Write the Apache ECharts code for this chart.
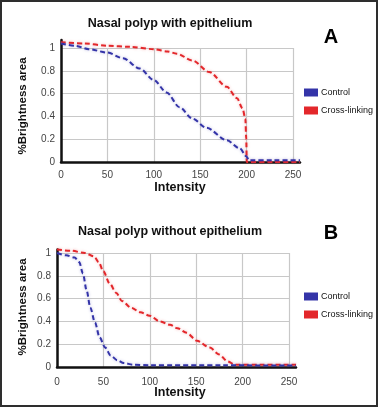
<!DOCTYPE html>
<html><head><meta charset="utf-8">
<script src="https://cdn.jsdelivr.net/npm/echarts@6/dist/echarts.min.js"></script>
<style>
html,body{margin:0;padding:0;background:#fff;}
#chart{position:absolute;left:0;top:0;width:378px;height:407px;}
#frame{position:absolute;left:0;top:0;width:378px;height:407px;box-sizing:border-box;border:2px solid #2e2e2e;pointer-events:none;}
</style></head><body>
<div id="chart"></div><div id="frame"></div>
<script>
const panelTitles = ['Nasal polyp with epithelium', 'Nasal polyp without epithelium'];
const panelLetters = ['A', 'B'];
const seriesNames = ['Control', 'Cross-linking'];
const xAxisName = 'Intensity';
const yAxisName = '%Brightness area';
const xTicks = [0, 50, 100, 150, 200, 250];
const yTicks = [0, 0.2, 0.4, 0.6, 0.8, 1];

// Panel A
const aControlX = [0, 15, 30, 50, 67, 85, 100, 114, 128, 142, 157, 179, 193, 200, 203, 230, 258];
const aControlY = [1.04, 1.02, 0.99, 0.96, 0.91, 0.82, 0.72, 0.61, 0.48, 0.38, 0.30, 0.19, 0.12, 0.05, 0.015, 0.015, 0.015];
const aCrossX = [0, 25, 50, 75, 100, 115, 125, 142, 160, 179, 190, 196, 199, 200, 200.5, 230, 258];
const aCrossY = [1.05, 1.04, 1.02, 1.01, 0.99, 0.97, 0.95, 0.89, 0.79, 0.66, 0.56, 0.47, 0.38, 0.2, 0.0, 0.0, 0.0];

// Panel B
const bControlX = [0, 10, 19, 24, 28, 32, 36, 41, 46, 52, 58, 65, 72, 82, 100, 180, 258];
const bControlY = [1.0, 0.98, 0.96, 0.92, 0.82, 0.67, 0.52, 0.39, 0.26, 0.17, 0.10, 0.06, 0.035, 0.02, 0.015, 0.015, 0.012];
const bCrossX = [0, 15, 30, 40, 45, 50, 57, 64, 70, 80, 90, 100, 111, 122, 130, 140, 151, 165, 175, 184, 192, 220, 258];
const bCrossY = [1.03, 1.02, 1.0, 0.97, 0.92, 0.84, 0.73, 0.65, 0.58, 0.52, 0.48, 0.45, 0.40, 0.37, 0.34, 0.30, 0.23, 0.17, 0.11, 0.05, 0.02, 0.02, 0.02];

const zip = (xs, ys) => xs.map((x, i) => [x, ys[i]]);
const FONT = "'Liberation Sans', Arial, sans-serif";
const BLUE = '#3434a8';
const RED = '#e3272b';

// layout per panel (pixel geometry only)
const panels = [
  { left: 61, frameTop: 48, ymax: 1.07, titleY: 24, letterY: 37, nameX: 23, nameY: 106, xNameY: 188, legendTop: 88 },
  { left: 57, frameTop: 253, ymax: 1.03, titleY: 232, letterY: 233, nameX: 23, nameY: 307, xNameY: 393, legendTop: 292 }
];
const FRAME_W = 232, FRAME_H = 114, DATA_W = 239, XMAX = 258;

const grid = [], xAxis = [], yAxis = [], series = [], graphic = [], legend = [];
const data = [[zip(aControlX, aControlY), zip(aCrossX, aCrossY)], [zip(bControlX, bControlY), zip(bCrossX, bCrossY)]];

panels.forEach((p, i) => {
  const fg = grid.length;
  grid.push({ left: p.left, top: p.frameTop, width: FRAME_W, height: FRAME_H });
  const dg = grid.length;
  const dh = FRAME_H * p.ymax;
  grid.push({ left: p.left, top: p.frameTop + FRAME_H - dh, width: DATA_W, height: dh });

  xAxis.push({
    gridIndex: fg, type: 'value', min: xTicks[0], max: xTicks[xTicks.length - 1], interval: 50,
    axisLine: { show: false }, axisTick: { show: false },
    axisLabel: { fontSize: 10, color: '#444', margin: i === 0 ? 8 : 10, fontFamily: FONT },
    splitLine: { lineStyle: { color: '#c8c8c8', width: 1.2 } }
  });
  yAxis.push({
    gridIndex: fg, type: 'value', min: yTicks[0], max: yTicks[yTicks.length - 1], interval: 0.2,
    axisLine: { show: false }, axisTick: { show: false },
    axisLabel: { fontSize: 10, color: '#444', margin: 6, fontFamily: FONT,
      formatter: v => (v === 0 ? '0' : (Math.abs(v - 1) < 1e-9 ? '1' : v.toFixed(1))) },
    splitLine: { lineStyle: { color: '#c8c8c8', width: 1.2 } }
  });
  const dx = xAxis.length;
  xAxis.push({
    gridIndex: dg, type: 'value', min: 0, max: XMAX,
    axisLine: { show: true, lineStyle: { color: '#111', width: 2.5 } },
    axisTick: { show: false }, axisLabel: { show: false }, splitLine: { show: false }
  });
  const dy = yAxis.length;
  yAxis.push({
    gridIndex: dg, type: 'value', min: 0, max: p.ymax,
    axisLine: { show: true, lineStyle: { color: '#111', width: 2.5 } },
    axisTick: { show: false }, axisLabel: { show: false }, splitLine: { show: false }
  });

  [BLUE, RED].forEach((c, k) => {
    series.push({
      name: seriesNames[k], type: 'line', xAxisIndex: dx, yAxisIndex: dy,
      data: data[i][k], showSymbol: false, symbol: 'none', smooth: 0.3, smoothMonotone: 'x',
      clip: false, z: 3 + (1 - k),
      itemStyle: { color: c },
      lineStyle: { color: c, width: 2, type: [5, 3], shadowBlur: 3, shadowColor: k === 0 ? 'rgba(52,52,168,0.35)' : 'rgba(227,39,43,0.35)' }
    });
  });

  legend.push({
    data: seriesNames, orient: 'vertical', left: 304, top: p.legendTop,
    icon: 'rect', itemWidth: 14, itemHeight: 8, itemGap: 9,
    textStyle: { fontSize: 9, color: '#111', fontFamily: FONT, padding: [0, 0, 0, -2] },
    itemStyle: { borderWidth: 0 }, lineStyle: { width: 0 }, padding: 0
  });

  graphic.push({ type: 'text', x: 170, y: p.titleY, style: { text: panelTitles[i], font: 'bold 12.5px ' + FONT, fill: '#111', textAlign: 'center', textVerticalAlign: 'middle' } });
  graphic.push({ type: 'text', x: 331, y: p.letterY, style: { text: panelLetters[i], font: 'bold 20px ' + FONT, fill: '#000', textAlign: 'center', textVerticalAlign: 'middle' } });
  graphic.push({ type: 'text', x: p.nameX, y: p.nameY, rotation: Math.PI / 2, style: { text: yAxisName, font: 'bold 11.5px ' + FONT, fill: '#111', textAlign: 'center', textVerticalAlign: 'middle' } });
  graphic.push({ type: 'text', x: 180, y: p.xNameY, style: { text: xAxisName, font: 'bold 12.5px ' + FONT, fill: '#111', textAlign: 'center', textVerticalAlign: 'middle' } });
});

const chart = echarts.init(document.getElementById('chart'), null, { renderer: 'canvas' });
chart.setOption({ animation: false, backgroundColor: '#fff', grid, xAxis, yAxis, series, legend, graphic });
</script>
</body></html>
